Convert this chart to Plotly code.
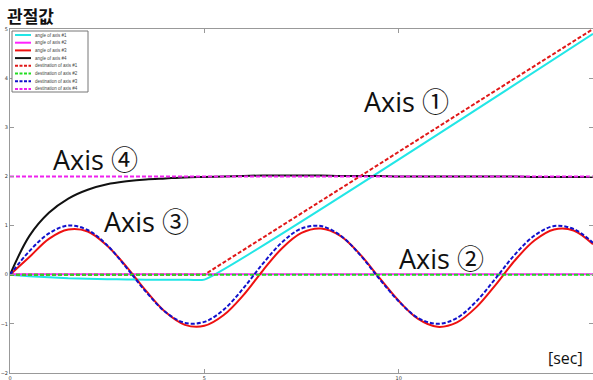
import plotly.graph_objects as go

# time samples [sec]
t = [0, 0.5, 1, 1.5, 2, 2.5, 3, 3.5, 4, 4.5, 5, 5.5, 6, 6.5, 7, 7.5,
     8, 8.5, 9, 9.5, 10, 10.5, 11, 11.5, 12, 12.5, 13, 13.5, 14, 14.5, 15]

# angle of axis #1 (cyan)
ang1_t = [0, 0.5, 1, 1.5, 2, 2.5, 3, 3.5, 4, 4.5, 5, 15]
ang1_v = [0, -0.03, -0.05, -0.07, -0.08, -0.09, -0.095, -0.1, -0.1, -0.1, -0.1, 4.9]

# angle of axis #2 (magenta)
ang2_t = [0, 15]
ang2_v = [0.01, 0.01]

# angle of axis #3 (red)
ang3_v = [0, 0.36, 0.73, 0.92, 0.88, 0.59, 0.16, -0.33, -0.76, -1.02, -1.04,
          -0.82, -0.42, 0.08, 0.54, 0.85, 0.94, 0.79, 0.42, -0.06, -0.53,
          -0.90, -1.06, -0.97, -0.66, -0.20, 0.30, 0.70, 0.92, 0.90, 0.62]

# angle of axis #4 (black)
ang4_v = [0, 0.79, 1.26, 1.55, 1.73, 1.84, 1.90, 1.94, 1.96, 1.98, 1.99,
          2.00, 2.01, 2.02, 2.02, 2.02, 2.02, 2.01, 2.01, 2.01, 2.00,
          2.00, 2.00, 2.00, 2.00, 2.00, 2.00, 1.99, 1.99, 1.99, 1.99]

# destination of axis #1 (red dashed)
dst1_t = [0, 5, 15]
dst1_v = [0, 0, 5]

# destination of axis #2 (green dashed)
dst2_t = [0, 15]
dst2_v = [0, 0]

# destination of axis #3 (blue dashed)
dst3_v = [0, 0.48, 0.84, 1.00, 0.91, 0.60, 0.14, -0.35, -0.76, -0.98, -0.96,
          -0.71, -0.28, 0.22, 0.66, 0.94, 0.99, 0.80, 0.41, -0.08, -0.54,
          -0.88, -1.00, -0.88, -0.54, -0.07, 0.42, 0.80, 0.99, 0.93, 0.65]

# destination of axis #4 (magenta dashed)
dst4_t = [0, 15]
dst4_v = [2, 2]

x_ticks = [0, 5, 10, 15]
y_ticks = [-2, -1, 0, 1, 2, 3, 4, 5]

DASH = "4px,2px"
fig = go.Figure()
fig.add_trace(go.Scatter(x=ang1_t, y=ang1_v, mode="lines", name="angle of axis #1",
                         line=dict(color="#22e6e6", width=2, shape="spline", smoothing=0.4)))
fig.add_trace(go.Scatter(x=ang2_t, y=ang2_v, mode="lines", name="angle of axis #2",
                         line=dict(color="#ff22ff", width=2)))
fig.add_trace(go.Scatter(x=t, y=ang3_v, mode="lines", name="angle of axis #3",
                         line=dict(color="#ee1111", width=2, shape="spline")))
fig.add_trace(go.Scatter(x=t, y=ang4_v, mode="lines", name="angle of axis #4",
                         line=dict(color="#111111", width=2, shape="spline")))
fig.add_trace(go.Scatter(x=dst1_t, y=dst1_v, mode="lines", name="destination of axis #1",
                         line=dict(color="#e01818", width=2, dash=DASH)))
fig.add_trace(go.Scatter(x=dst2_t, y=dst2_v, mode="lines", name="destination of axis #2",
                         line=dict(color="#22dd22", width=2, dash=DASH)))
fig.add_trace(go.Scatter(x=t, y=dst3_v, mode="lines", name="destination of axis #3",
                         line=dict(color="#1111cc", width=2, dash=DASH, shape="spline")))
fig.add_trace(go.Scatter(x=dst4_t, y=dst4_v, mode="lines", name="destination of axis #4",
                         line=dict(color="#ee22ee", width=2, dash=DASH)))

# compact MATLAB-style legend built from the traces (plotly's own legend rows are too tall)
PW, PH = 583.0, 344.0          # plot area size in px
def px(xp):  # pixel offset from plot left -> paper
    return xp / PW
def py(yp):  # pixel offset from plot top -> paper
    return 1 - yp / PH

fig.add_shape(type="rect", xref="paper", yref="paper",
              x0=px(2), x1=px(78), y0=py(2), y1=py(63),
              line=dict(color="#777", width=1), fillcolor="white", layer="above")
for i, tr in enumerate(fig.data):
    yy = py(6 + i * 7.7)
    fig.add_shape(type="line", xref="paper", yref="paper",
                  x0=px(5), x1=px(21), y0=yy, y1=yy, layer="above",
                  line=dict(color=tr.line.color, width=2,
                            dash="3px,1.5px" if tr.line.dash else "solid"))
    fig.add_annotation(text=tr.name, x=px(23), y=yy, xref="paper", yref="paper",
                       xanchor="left", yanchor="middle", showarrow=False,
                       font=dict(family="Liberation Sans, DejaVu Sans", size=4.5, color="#444"))

FONT = "Open Sans, Noto Sans CJK KR"
anns = [
    dict(text="Axis ①", x=10.2, y=3.52),
    dict(text="Axis ④", x=2.2, y=2.34),
    dict(text="Axis ③", x=3.5, y=1.08),
    dict(text="Axis ②", x=11.1, y=0.33),
]
for a in anns:
    fig.add_annotation(text=a["text"], x=a["x"], y=a["y"], xref="x", yref="y",
                       showarrow=False, font=dict(family=FONT, size=27, color="#111"))
fig.add_annotation(text="[sec]", x=14.3, y=-1.69, xref="x", yref="y", showarrow=False,
                   font=dict(family=FONT, size=16, color="#111"))
fig.add_annotation(text="<b>관절값</b>", x=-0.0086, y=1.04, xref="paper", yref="paper",
                   xanchor="left", yanchor="middle", showarrow=False,
                   font=dict(family="Noto Sans CJK KR", size=17, color="#111"))

axis_common = dict(showline=True, linecolor="#999", linewidth=1, mirror="ticks",
                   ticks="inside", ticklen=4, tickcolor="#999", showgrid=False,
                   zeroline=False, automargin=False,
                   tickfont=dict(size=5, color="#333", family="DejaVu Sans"))
fig.update_xaxes(range=[0, 15], tickvals=x_ticks, **axis_common)
fig.update_yaxes(range=[-2, 5], tickvals=y_ticks, **axis_common)

fig.update_layout(
    width=593, height=380,
    margin=dict(l=10, r=0, t=29, b=7),
    plot_bgcolor="white", paper_bgcolor="white",
    showlegend=False,
)
fig.write_html("out.html", config={"displayModeBar": False},
               post_script="document.body.style.margin='0';document.body.style.overflow='hidden';")
